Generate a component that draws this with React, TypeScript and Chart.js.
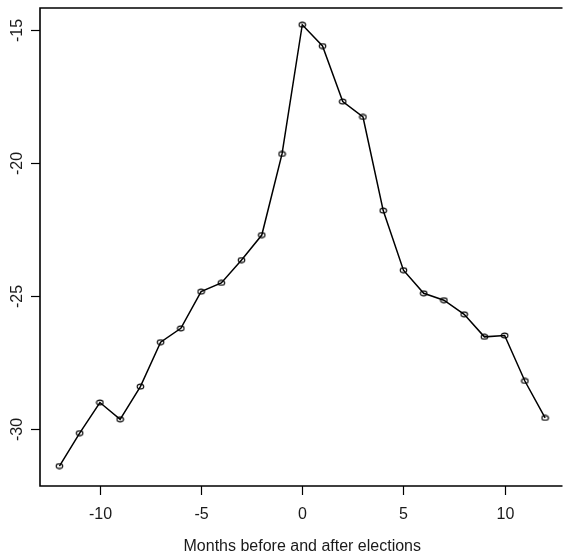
import React, { useEffect, useRef } from "react";
import { Chart, registerables } from "chart.js";

Chart.register(...registerables);

const months = [-12, -11, -10, -9, -8, -7, -6, -5, -4, -3, -2, -1, 0, 1, 2, 3, 4, 5, 6, 7, 8, 9, 10, 11, 12];
const values = [
  -31.4, -30.16, -29.01, -29.64, -28.41, -26.74, -26.22, -24.84, -24.51, -23.65, -22.71, -19.66,
  -14.8, -15.6, -17.69, -18.27, -21.79, -24.03, -24.9, -25.16, -25.69, -26.54, -26.49, -28.2, -29.59,
];
const xTicks = [-10, -5, 0, 5, 10];
const yTicks = [-15, -20, -25, -30];
const xTitle = "Months before and after elections";

const FONT = "16px 'Liberation Sans', Arial, sans-serif";

function makeMarker(): HTMLCanvasElement {
  const c = document.createElement("canvas");
  c.width = 9;
  c.height = 7;
  const ctx = c.getContext("2d")!;
  ctx.strokeStyle = "#000";
  ctx.lineWidth = 1.1;
  ctx.beginPath();
  ctx.ellipse(4.5, 3.5, 3.3, 2.4, 0, 0, Math.PI * 2);
  ctx.stroke();
  return c;
}

const rAxes = {
  id: "rAxes",
  afterDraw(chart: any) {
    const { ctx, chartArea } = chart;
    const xs = chart.scales.x;
    const ys = chart.scales.y;
    const { left, top, right, bottom } = chartArea;
    ctx.save();
    ctx.strokeStyle = "#000";
    ctx.lineWidth = 1.6;
    ctx.beginPath();
    ctx.moveTo(right + 2, top);
    ctx.lineTo(left, top);
    ctx.lineTo(left, bottom);
    ctx.lineTo(right + 2, bottom);
    ctx.stroke();
    ctx.fillStyle = "#1a1a1a";
    ctx.font = FONT;
    ctx.lineWidth = 1.2;
    ctx.textAlign = "center";
    ctx.textBaseline = "middle";
    for (const t of xTicks) {
      const px = Math.round(xs.getPixelForValue(t)) + 0.5;
      ctx.beginPath();
      ctx.moveTo(px, bottom);
      ctx.lineTo(px, bottom + 9);
      ctx.stroke();
      ctx.fillText(String(t), px, bottom + 29);
    }
    for (const t of yTicks) {
      const py = Math.round(ys.getPixelForValue(t)) + 0.5;
      ctx.beginPath();
      ctx.moveTo(left, py);
      ctx.lineTo(left - 9, py);
      ctx.stroke();
      ctx.save();
      ctx.translate(left - 22, py);
      ctx.rotate(-Math.PI / 2);
      ctx.fillText(String(t), 0, 0);
      ctx.restore();
    }
    ctx.fillText(xTitle, xs.getPixelForValue(0), bottom + 61);
    ctx.restore();
  },
};

export default function App() {
  const ref = useRef<HTMLCanvasElement | null>(null);
  useEffect(() => {
    document.body.style.margin = "0";
    const marker = makeMarker();
    const chart = new Chart(ref.current!, {
      type: "line",
      data: {
        datasets: [
          {
            data: months.map((m, i) => ({ x: m, y: values[i] })),
            borderColor: "#000",
            borderWidth: 1.5,
            pointStyle: marker as any,
            pointRadius: 4,
            tension: 0,
            fill: false,
          },
        ],
      },
      options: {
        animation: false,
        responsive: false,
        devicePixelRatio: 1,
        layout: { padding: { left: 40, top: 8, right: 0, bottom: 73 } },
        plugins: { legend: { display: false }, tooltip: { enabled: false } },
        scales: {
          x: { type: "linear", min: -12.96, max: 12.76, display: false },
          y: { type: "linear", min: -32.15, max: -14.17, display: false },
        },
      },
      plugins: [rAxes],
    });
    return () => chart.destroy();
  }, []);
  return (
    <div style={{ position: "absolute", left: 0, top: 0, width: 566, height: 559, background: "#fff" }}>
      <canvas ref={ref} width={566} height={559} style={{ display: "block", width: 566, height: 559 }} />
    </div>
  );
}
